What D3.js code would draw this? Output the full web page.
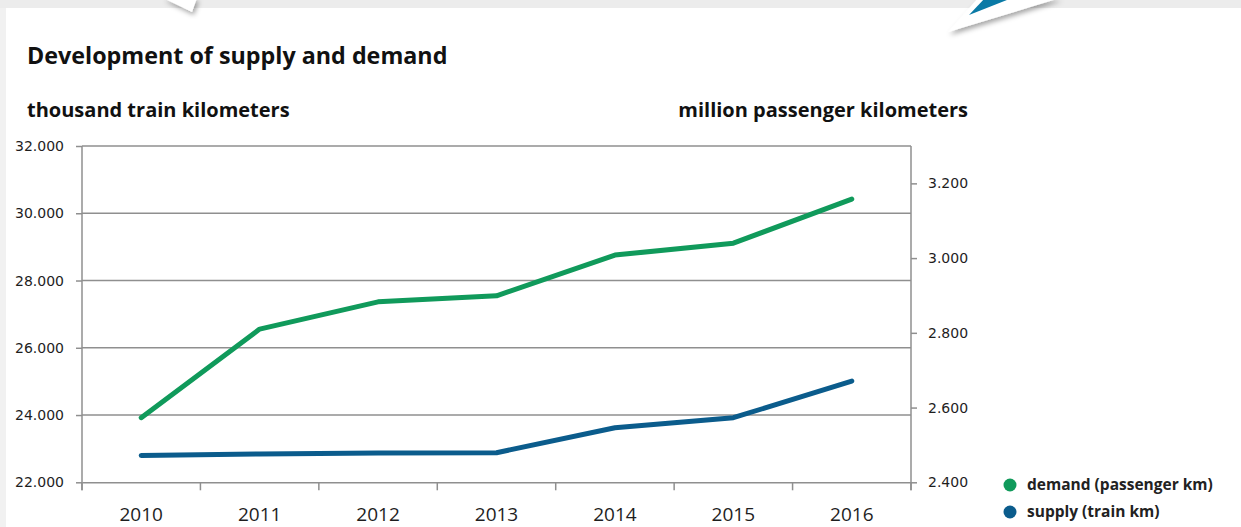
<!DOCTYPE html>
<html>
<head>
<meta charset="utf-8">
<script src="https://cdn.jsdelivr.net/npm/d3@7"></script>
<style>
  body { margin: 0; background: #fff; }
  svg { display: block; }
  .tick text { fill: #1e1e1e; }
</style>
</head>
<body>
<div id="chart"></div>
<script>
// data
var years = ["2010", "2011", "2012", "2013", "2014", "2015", "2016"];
var supply = [22800, 22840, 22870, 22880, 23620, 23920, 25010];   // thousand train km (left axis)
var demand = [2573, 2810, 2883, 2899, 3008, 3040, 3158];          // million passenger km (right axis)
var leftTicks = [22000, 24000, 26000, 28000, 30000, 32000];
var rightTicks = [2400, 2600, 2800, 3000, 3200];
var seriesNames = ["demand (passenger km)", "supply (train km)"];

var W = 1241, H = 527;
var plot = {left: 82, right: 911, top: 146, bottom: 482.3};
var green = "#109a5b", blue = "#0b5c8c", grid = "#8f8f8f";

var svg = d3.select("#chart").append("svg")
    .attr("width", W)
    .attr("height", H);

// page frame: grey strips round a white panel
svg.append("rect").attr("x", 0).attr("y", 0).attr("width", W).attr("height", 8).attr("fill", "#ececec");
svg.append("rect").attr("x", 0).attr("y", 8).attr("width", 6).attr("height", H).attr("fill", "#f1f1f1");

var defs = svg.append("defs");
var f = defs.append("filter").attr("id", "shadow").attr("x", "-50%").attr("y", "-50%").attr("width", "200%").attr("height", "200%");
f.append("feDropShadow").attr("dx", 2).attr("dy", 3).attr("stdDeviation", 2.5).attr("flood-color", "#000").attr("flood-opacity", 0.35);

// speech bubble pointer (top left)
svg.append("path")
    .attr("d", "M163,-2 L192,12 L197,-2 Z")
    .attr("fill", "#fff")
    .attr("filter", "url(#shadow)");
// blue arrow (top right)
svg.append("path")
    .attr("d", "M948,32 L978,-2 L1060,-2 Z")
    .attr("fill", "#fff")
    .attr("filter", "url(#shadow)");
svg.append("path")
    .attr("d", "M969,15 L985,-2 L1012,-2 Z")
    .attr("fill", "#0a7aa6");

// titles
svg.append("text")
    .attr("x", 27).attr("y", 64)
    .style("font-family", "'Open Sans', sans-serif")
    .style("font-weight", "700")
    .style("font-size", "23.3px")
    .attr("fill", "#111")
    .text("Development of supply and demand");

svg.append("text")
    .attr("x", 27).attr("y", 117)
    .style("font-family", "'Open Sans', sans-serif")
    .style("font-weight", "700")
    .style("font-size", "20px")
    .attr("fill", "#111")
    .text("thousand train kilometers");

svg.append("text")
    .attr("x", 968).attr("y", 117)
    .attr("text-anchor", "end")
    .style("font-family", "'Open Sans', sans-serif")
    .style("font-weight", "700")
    .style("font-size", "20px")
    .attr("fill", "#111")
    .text("million passenger kilometers");

// scales
var x = d3.scaleBand()
    .domain(years)
    .range([plot.left, plot.right])
    .padding(0);
var yL = d3.scaleLinear()
    .domain([22000, 32000])
    .range([plot.bottom, plot.top]);
var yR = d3.scaleLinear()
    .domain([2400, 3300])
    .range([plot.bottom, plot.top]);

var fmt = function(d) { return d3.format(",")(d).replace(/,/g, "."); };

// horizontal grid
svg.append("g")
    .selectAll("line")
    .data(leftTicks.slice(1))
  .enter().append("line")
    .attr("x1", plot.left).attr("x2", plot.right)
    .attr("y1", function(d) { return yL(d); })
    .attr("y2", function(d) { return yL(d); })
    .attr("stroke", grid)
    .attr("stroke-width", 1.5);

// left axis
var gl = svg.append("g")
    .attr("transform", "translate(" + plot.left + ",0)")
    .call(d3.axisLeft(yL).tickValues(leftTicks).tickSize(6).tickPadding(12).tickFormat(fmt));

// right axis
var gr = svg.append("g")
    .attr("transform", "translate(" + plot.right + ",0)")
    .call(d3.axisRight(yR).tickValues(rightTicks).tickSize(6).tickPadding(11).tickFormat(fmt));

// x axis, ticks between the categories
var gx = svg.append("g")
    .attr("transform", "translate(0," + plot.bottom + ")")
    .call(d3.axisBottom(x).tickSize(0).tickPadding(25));

gx.selectAll(".tick")
  .append("line")
    .attr("x1", -x.bandwidth() / 2).attr("x2", -x.bandwidth() / 2)
    .attr("y1", 0).attr("y2", 8);
gx.append("line")
    .attr("x1", plot.right).attr("x2", plot.right)
    .attr("y1", 0).attr("y2", 8);

[gl, gr, gx].forEach(function(g) {
  g.selectAll(".domain").attr("stroke", grid).attr("stroke-width", 1.5);
  g.selectAll("line").attr("stroke", grid).attr("stroke-width", 1.5);
});
gr.select(".domain").attr("d", "M0," + plot.top + "V" + (plot.bottom + 8));
gl.select(".domain").attr("d", "M0," + plot.top + "V" + (plot.bottom + 8));

gl.selectAll("text")
    .style("font-family", "'DejaVu Sans', sans-serif")
    .style("font-size", "14px");
gr.selectAll("text")
    .style("font-family", "'DejaVu Sans', sans-serif")
    .style("font-size", "14px");
gx.selectAll("text")
    .style("font-family", "'Open Sans', sans-serif")
    .style("font-size", "19px")
    .attr("fill", "#1e1e1e");

// lines
var cx = function(i) { return x(years[i]) + x.bandwidth() / 2; };

var demandLine = d3.line()
    .x(function(d, i) { return cx(i); })
    .y(function(d) { return yR(d); });
var supplyLine = d3.line()
    .x(function(d, i) { return cx(i); })
    .y(function(d) { return yL(d); });

svg.append("path")
    .datum(demand)
    .attr("d", demandLine)
    .attr("fill", "none")
    .attr("stroke", green)
    .attr("stroke-width", 5)
    .attr("stroke-linecap", "round")
    .attr("stroke-linejoin", "round");

svg.append("path")
    .datum(supply)
    .attr("d", supplyLine)
    .attr("fill", "none")
    .attr("stroke", blue)
    .attr("stroke-width", 5)
    .attr("stroke-linecap", "round")
    .attr("stroke-linejoin", "round");

// legend
var legend = svg.append("g")
  .selectAll("g")
    .data(seriesNames)
  .enter().append("g")
    .attr("transform", function(d, i) { return "translate(1010," + (485 + i * 27) + ")"; });

legend.append("circle")
    .attr("r", 6.5)
    .attr("fill", function(d, i) { return i === 0 ? green : blue; });

legend.append("text")
    .attr("x", 17).attr("y", 5)
    .style("font-family", "'Open Sans', sans-serif")
    .style("font-weight", "700")
    .style("font-size", "15.5px")
    .attr("fill", "#222")
    .text(function(d) { return d; });
</script>
</body>
</html>
